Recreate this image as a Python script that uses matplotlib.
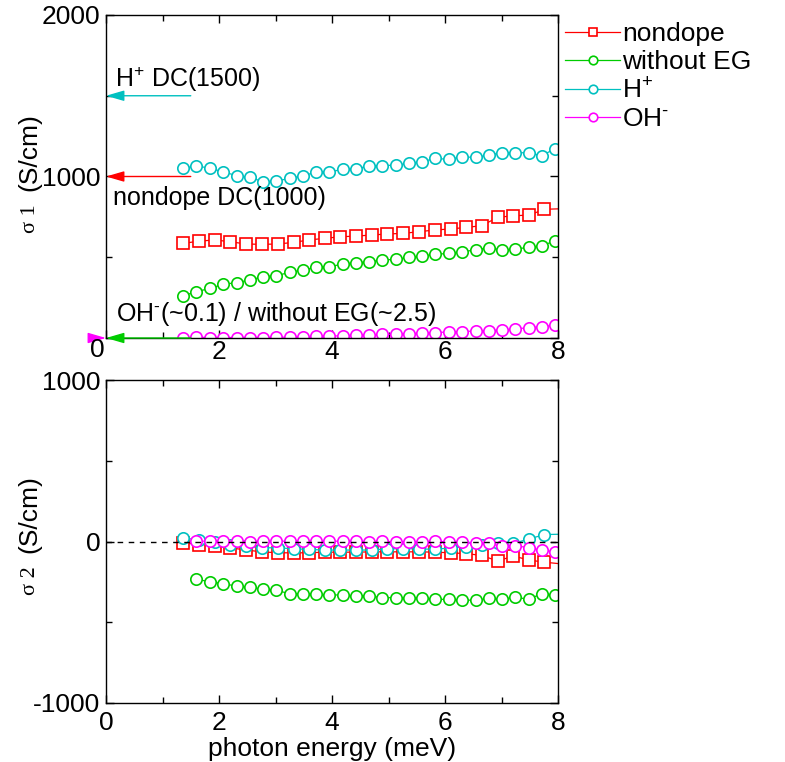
import matplotlib
matplotlib.use("Agg")
import matplotlib.pyplot as plt

plt.rcParams['font.family'] = ['Liberation Sans', 'DejaVu Sans']
plt.rcParams['mathtext.fontset'] = 'custom'
plt.rcParams['mathtext.rm'] = 'Liberation Sans'
plt.rcParams['mathtext.it'] = 'Liberation Sans:italic'
plt.rcParams['axes.unicode_minus'] = False

# energia (meV): dos rejillas de frecuencia
x_a = [1.37, 1.60, 1.84, 2.07, 2.31, 2.54, 2.78, 3.01, 3.25, 3.48, 3.72, 3.95,
       4.19, 4.42, 4.66, 4.89, 5.13, 5.36, 5.60, 5.83, 6.07, 6.30, 6.54, 6.77,
       7.01, 7.24, 7.48, 7.71, 7.95]
x_b = [1.37, 1.65, 1.93, 2.20, 2.48, 2.76, 3.04, 3.32, 3.59, 3.87, 4.15, 4.43,
       4.71, 4.98, 5.26, 5.54, 5.82, 6.10, 6.37, 6.65, 6.93, 7.21, 7.49, 7.76,
       8.04]

# sigma_1 (S/cm)
s1_nondope = [586, 600, 607, 596, 582, 580, 582, 592, 607, 617, 627, 631, 638,
              644, 648, 658, 669, 675, 685, 695, 747, 757, 761, 797, 800]
s1_noeg = [262, 287, 307, 332, 343, 359, 380, 386, 406, 421, 437, 441, 458,
           466, 472, 483, 487, 499, 508, 518, 524, 534, 545, 559, 545, 551,
           561, 571, 602]
s1_h = [1050, 1067, 1050, 1030, 1005, 995, 968, 972, 988, 1005, 1026, 1026,
        1046, 1046, 1067, 1067, 1071, 1081, 1092, 1112, 1106, 1122, 1118, 1133,
        1147, 1147, 1147, 1129, 1172]
s1_oh = [2, 5, 3, 3, 3, 3, 3, 4, 6, 8, 10, 10, 15, 17, 20, 22, 25, 27, 30, 33,
         38, 40, 43, 46, 50, 56, 64, 70, 80]

# sigma_2 (S/cm)
s2_nondope = [-8, -19, -29, -39, -53, -64, -70, -70, -70, -66, -66, -66, -64,
              -64, -64, -64, -66, -70, -75, -86, -121, -90, -115, -128, -138]
s2_noeg = [-234, -249, -261, -276, -282, -296, -302, -323, -323, -327, -331,
           -331, -337, -337, -348, -348, -352, -348, -358, -358, -362, -364,
           -352, -358, -344, -358, -323, -331]
s2_h = [23, 8, -4, -19, -29, -39, -39, -45, -49, -53, -53, -53, -53, -45, -45,
        -45, -49, -39, -33, -19, -12, -12, 16, 43, 45]
s2_oh = [2, 2, 2, 2, 0, 2, 2, 2, 2, 2, 2, 2, 2, -2, 2, -2, -2, -2, 2, -2, -4,
         -12, -12, -29, -25, -39, -53, -64]

labels = ['nondope', 'without EG', 'H$^{+}$', 'OH$^{\\text{-}}$']
colores = ['#ff0000', '#00cc00', '#00c0c0', '#ff00ff']
marcadores = ['s', 'o', 'o', 'o']

# valores DC marcados con flechas
dc_h = 1500
dc_nondope = 1000
dc_low = 0

W, H = 785, 762


def fx(px):
    return px / W


def fy(py):
    return 1 - py / H


def serie(ax, x, y, color, marker, label=None):
    dentro = [i for i, v in enumerate(x) if v <= 8]
    ax.plot(x, y, '-', color=color, lw=0.9, marker=marker, markersize=8.2,
            mfc='white', mec=color, mew=1.2, markevery=dentro, label=label)


def estilo_ejes(ax):
    for s in ax.spines.values():
        s.set_linewidth(1.0)
    ax.set_xlim(0, 8)
    ax.set_xticks([0, 2, 4, 6, 8])
    ax.set_xticks([1, 3, 5, 7], minor=True)
    ax.tick_params(which='both', direction='in', top=True, right=True,
                   width=1.0, labelsize=19)
    ax.tick_params(which='major', length=6)
    ax.tick_params(which='minor', length=4)
    ax.tick_params(axis='y', pad=4)


fig = plt.figure(figsize=(7.85, 7.62), dpi=100)
ax1 = fig.add_axes([fx(106), fy(338), fx(558) - fx(106), fy(15) - fy(338)])
ax2 = fig.add_axes([fx(106), fy(703), fx(558) - fx(106), fy(380) - fy(703)])

# panel superior
xs_top = [x_b, x_a, x_a, x_a]
ys_top = [s1_nondope, s1_noeg, s1_h, s1_oh]
for x, y, c, m, lab in zip(xs_top, ys_top, colores, marcadores, labels):
    serie(ax1, x, y, c, m, lab)

estilo_ejes(ax1)
ax1.set_ylim(0, 2000)
ax1.set_yticks([0, 1000, 2000])
ax1.set_yticklabels(['', '1000', '2000'])
ax1.set_yticks([500, 1500], minor=True)
ax1.set_xticklabels(['', '2', '4', '6', '8'])
ax1.tick_params(axis='x', pad=1.5)
fig.text(fx(97), fy(350), '0', fontsize=19, ha='center', va='center')

flecha = dict(arrowstyle='-|>,head_length=1.1,head_width=0.32',
              mutation_scale=10, lw=1.0, shrinkA=0, shrinkB=0)
for val, c in [(dc_h, colores[2]), (dc_nondope, colores[0]), (dc_low, colores[1])]:
    ax1.annotate('', xy=(0, val), xytext=(1.5, val),
                 arrowprops=dict(flecha, color=c), annotation_clip=False)
ax1.annotate('', xy=(0, dc_low), xytext=(-0.27, dc_low),
             arrowprops=dict(flecha, color=colores[3]), annotation_clip=False)

ax1.text(0.16, 1600, 'H$^{+}$ DC(1500)', fontsize=18, va='center')
ax1.text(0.12, 867, 'nondope DC(1000)', fontsize=18, va='center')
ax1.text(0.17, 150, 'OH$^{\\text{-}}$(~0.1) / without EG(~2.5)', fontsize=18,
         va='center')

ax1.legend(loc='upper left', bbox_to_anchor=(fx(565), fy(22)),
           bbox_transform=fig.transFigure, frameon=False, fontsize=19,
           handlelength=2.1, handletextpad=0.05, labelspacing=0.15,
           borderpad=0, borderaxespad=0, markerscale=0.75)

# panel inferior
xs_bot = [x_b, x_a[1:], x_b, x_a[1:]]
ys_bot = [s2_nondope, s2_noeg, s2_h, s2_oh]
for x, y, c, m in zip(xs_bot, ys_bot, colores, marcadores):
    serie(ax2, x, y, c, m)
ax2.axhline(0, color='black', lw=1.0, ls=(0, (4, 4)), zorder=5)

estilo_ejes(ax2)
ax2.set_ylim(-1000, 1000)
ax2.set_yticks([-1000, 0, 1000])
ax2.set_yticks([-500, 500], minor=True)
ax2.tick_params(axis='x', pad=6)
ax2.set_xlabel('photon energy (meV)', fontsize=19, labelpad=1)

# etiquetas del eje y (sigma en otra fuente y tamaño)
for top, bot, sub in [(113, 233, '1'), (475, 595, '2')]:
    fig.text(fx(41), fy(top), '(S/cm)', fontsize=19, rotation=90,
             ha='right', va='top')
    fig.text(fx(40), fy(bot), '\u03c3 ' + sub, fontsize=16, rotation=90,
             ha='right', va='bottom', family=['Liberation Serif', 'DejaVu Serif'])

fig.savefig('out.png', dpi=100)
